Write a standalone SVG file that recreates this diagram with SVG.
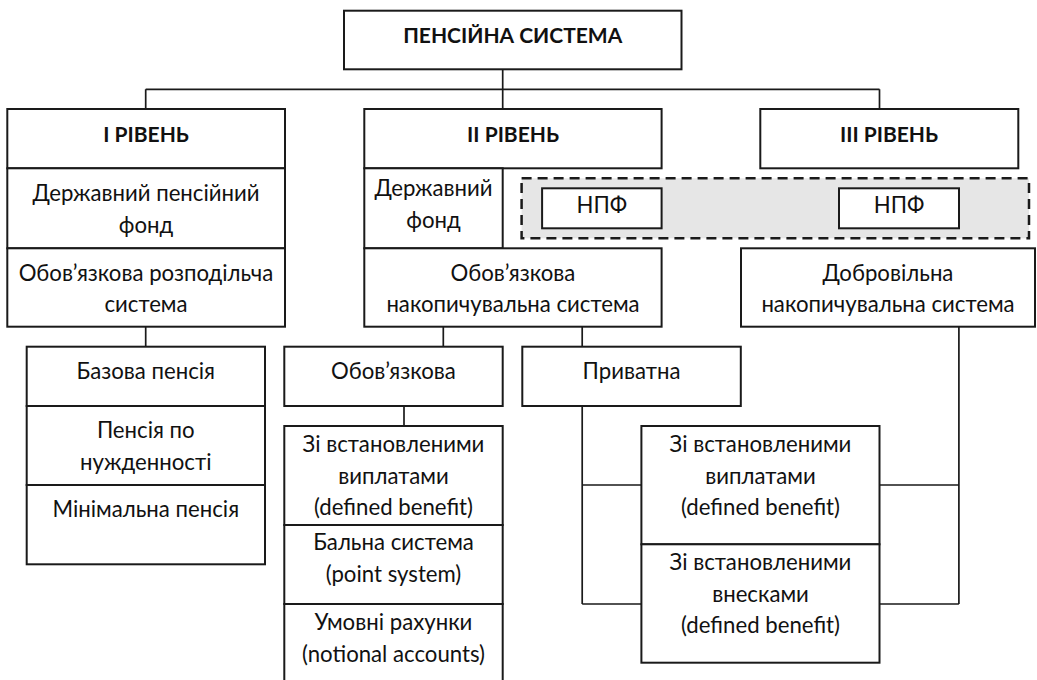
<svg xmlns="http://www.w3.org/2000/svg" width="1037" height="680" viewBox="0 0 1037 680">
<style>
.box{fill:#fff;stroke:#1a1a1a;stroke-width:2}
.t{font-family:Lato,"Noto Sans","DejaVu Sans",sans-serif;font-size:22.2px;fill:#111;text-anchor:middle}
.b{font-weight:bold;font-size:21px}
.conn{fill:none;stroke:#1a1a1a;stroke-width:1.7}
.dash{fill:#e6e6e6;stroke:#1a1a1a;stroke-width:2.5;stroke-dasharray:10 6}
</style>
<rect width="1037" height="680" fill="#fff"/>
<g id="connectors" class="conn">
<path d="M502.7 69.3V109M145.7 89.3H879.5M145.7 89.3V109M879.5 89.3V109"/>
<path d="M145.7 326.7V346.7M443.3 326.7V346.7M582.2 326.7V346.7"/>
<path d="M404 406V426"/>
<path d="M582.2 406V604M582.2 485H641.4M582.2 604H641.4"/>
<path d="M958.9 326.7V604M879.5 485H958.9M879.5 604H958.9"/>
</g>
<g id="root"><rect class="box" x="344" y="10.7" width="337.5" height="58.6"/><text class="t b" x="512.7" y="42.5">ПЕНСІЙНА СИСТЕМА</text></g>
<g id="level1"><rect class="box" x="7.3" y="109" width="277.7" height="59.3"/><text class="t b" x="146" y="141.7">І РІВЕНЬ</text></g>
<g id="level1-fund"><rect class="box" x="7.3" y="168.3" width="277.7" height="80"/><text class="t" x="146" y="201">Державний пенсійний</text><text class="t" x="146" y="233">фонд</text></g>
<g id="level1-system"><rect class="box" x="7.3" y="248.3" width="277.7" height="78.4"/><text class="t" x="146" y="280.5">Обов’язкова розподільча</text><text class="t" x="146" y="312.3">система</text></g>
<g id="level2"><rect class="box" x="364.3" y="109" width="297.3" height="59.3"/><text class="t b" x="513" y="141.7">ІІ РІВЕНЬ</text></g>
<g id="level2-fund"><rect class="box" x="364.3" y="168.3" width="138.4" height="80"/><text class="t" x="433.5" y="196">Державний</text><text class="t" x="433.5" y="228">фонд</text></g>
<g id="npf-zone"><rect class="dash" x="521.6" y="178.3" width="507.4" height="60"/></g>
<g id="npf1"><rect class="box" x="542.1" y="188.3" width="119.5" height="40"/><text class="t" x="601.8" y="213.3">НПФ</text></g>
<g id="npf2"><rect class="box" x="839" y="188.3" width="120" height="40"/><text class="t" x="899" y="213.3">НПФ</text></g>
<g id="level2-system"><rect class="box" x="364.3" y="248.3" width="297.3" height="78.4"/><text class="t" x="513" y="280.5">Обов’язкова</text><text class="t" x="513" y="312.3">накопичувальна система</text></g>
<g id="level3"><rect class="box" x="760.3" y="109" width="258" height="59.3"/><text class="t b" x="889" y="141.7">ІІІ РІВЕНЬ</text></g>
<g id="level3-system"><rect class="box" x="741" y="248.3" width="294" height="78.4"/><text class="t" x="888" y="280.5">Добровільна</text><text class="t" x="888" y="312.3">накопичувальна система</text></g>
<g id="base"><rect class="box" x="26.7" y="346.7" width="238.3" height="59.3"/><text class="t" x="145.8" y="378.5">Базова пенсія</text></g>
<g id="need"><rect class="box" x="26.7" y="406" width="238.3" height="79"/><text class="t" x="145.8" y="438.3">Пенсія по</text><text class="t" x="145.8" y="470.3">нужденності</text></g>
<g id="minimal"><rect class="box" x="26.7" y="485" width="238.3" height="79.3"/><text class="t" x="145.8" y="516.7">Мінімальна пенсія</text></g>
<g id="mandatory"><rect class="box" x="284.3" y="346.7" width="218.4" height="59.3"/><text class="t" x="393.5" y="378.5">Обов’язкова</text></g>
<g id="mand-db"><rect class="box" x="284.3" y="426" width="218.4" height="99"/><text class="t" x="393.5" y="451.7">Зі встановленими</text><text class="t" x="393.5" y="483.5">виплатами</text><text class="t" x="393.5" y="515.3">(defined benefit)</text></g>
<g id="mand-point"><rect class="box" x="284.3" y="525" width="218.4" height="79"/><text class="t" x="393.5" y="550">Бальна система</text><text class="t" x="393.5" y="581.7">(point system)</text></g>
<g id="mand-notional"><rect class="box" x="284.3" y="604" width="218.4" height="90"/><text class="t" x="393.5" y="630">Умовні рахунки</text><text class="t" x="393.5" y="661.7">(notional accounts)</text></g>
<g id="private"><rect class="box" x="522.3" y="346.7" width="218.5" height="59.3"/><text class="t" x="631.5" y="378.5">Приватна</text></g>
<g id="priv-db"><rect class="box" x="641.4" y="426" width="238.1" height="118.3"/><text class="t" x="760.5" y="451.7">Зі встановленими</text><text class="t" x="760.5" y="483.5">виплатами</text><text class="t" x="760.5" y="515.3">(defined benefit)</text></g>
<g id="priv-dc"><rect class="box" x="641.4" y="544.3" width="238.1" height="118.4"/><text class="t" x="760.5" y="570">Зі встановленими</text><text class="t" x="760.5" y="601.7">внесками</text><text class="t" x="760.5" y="633.3">(defined benefit)</text></g>
</svg>
